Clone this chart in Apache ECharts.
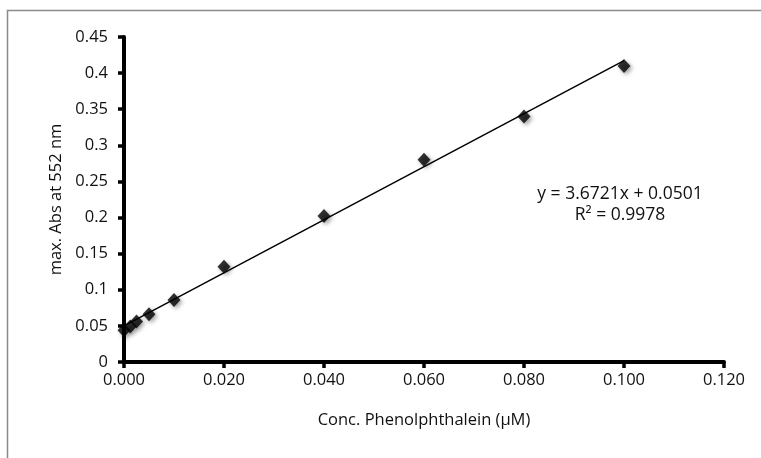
<!DOCTYPE html>
<html>
<head>
<meta charset="utf-8">
<script src="https://cdn.jsdelivr.net/npm/echarts@6/dist/echarts.min.js"></script>
<style>html,body{margin:0;padding:0;background:#fff}#c{width:761px;height:458px}</style>
</head>
<body>
<div id="c"></div>
<script>
const concentrations = [0, 0.00125, 0.0025, 0.005, 0.01, 0.02, 0.04, 0.06, 0.08, 0.1];
const absorbances = [0.044, 0.049, 0.056, 0.066, 0.086, 0.132, 0.202, 0.280, 0.340, 0.410];
const trendX = [0, 0.1];
const trendY = [0.0501, 0.4173];
const xTicks = [0, 0.02, 0.04, 0.06, 0.08, 0.1, 0.12];
const yTicks = [0, 0.05, 0.1, 0.15, 0.2, 0.25, 0.3, 0.35, 0.4, 0.45];
const equationText = 'y = 3.6721x + 0.0501';
const r2Text = 'R² = 0.9978';

const FONT = '"Open Sans", sans-serif';
const chart = echarts.init(document.getElementById('c'), null, {renderer: 'canvas'});
chart.setOption({
  animation: false,
  backgroundColor: '#fff',
  grid: {left: 124, right: 37, top: 37, bottom: 96, containLabel: false},
  xAxis: {
    type: 'value', min: 0, max: 0.12, interval: 0.02,
    name: 'Conc. Phenolphthalein (µM)', nameLocation: 'middle', nameGap: 50,
    nameTextStyle: {fontFamily: FONT, fontSize: 16.5, color: '#111'},
    axisLine: {show: true, onZero: false, lineStyle: {color: '#000', width: 4}},
    axisTick: {show: true, length: 6, lineStyle: {color: '#000', width: 3.5}},
    axisLabel: {fontFamily: FONT, fontSize: 16.5, color: '#111', margin: 10,
      formatter: v => v.toFixed(3)},
    splitLine: {show: false}
  },
  yAxis: {
    type: 'value', min: 0, max: 0.45, interval: 0.05,
    name: 'max. Abs at 552 nm', nameLocation: 'middle', nameGap: 54,
    nameTextStyle: {fontFamily: FONT, fontSize: 16.5, color: '#111'},
    axisLine: {show: true, onZero: false, lineStyle: {color: '#000', width: 4}},
    axisTick: {show: true, length: 6, lineStyle: {color: '#000', width: 3.5}},
    axisLabel: {fontFamily: FONT, fontSize: 16.5, color: '#111', margin: 16,
      formatter: v => String(+v.toFixed(2))},
    splitLine: {show: false}
  },
  series: [
    {
      type: 'line', data: trendX.map((x, i) => [x, trendY[i]]),
      symbol: 'none', lineStyle: {color: '#000', width: 1.5}, z: 2, silent: true
    },
    {
      type: 'scatter', data: concentrations.map((x, i) => [x, absorbances[i]]),
      symbol: 'diamond', symbolSize: [13, 14],
      itemStyle: {color: '#000', shadowBlur: 4, shadowColor: 'rgba(0,0,0,0.45)', shadowOffsetX: 2, shadowOffsetY: 2},
      z: 3
    }
  ],
  graphic: [
    {type: 'rect', shape: {x: 7.5, y: 10.5, width: 800, height: 500},
      style: {fill: 'none', stroke: '#8a8a8a', lineWidth: 1.5}, silent: true, z: -1},
    {type: 'text', x: 620, y: 185, style: {text: equationText, fontFamily: FONT, fontSize: 17.5, fill: '#111', textAlign: 'center'}},
    {type: 'text', x: 620, y: 206, style: {text: r2Text, fontFamily: FONT, fontSize: 17.5, fill: '#111', textAlign: 'center'}}
  ]
});
</script>
</body>
</html>
